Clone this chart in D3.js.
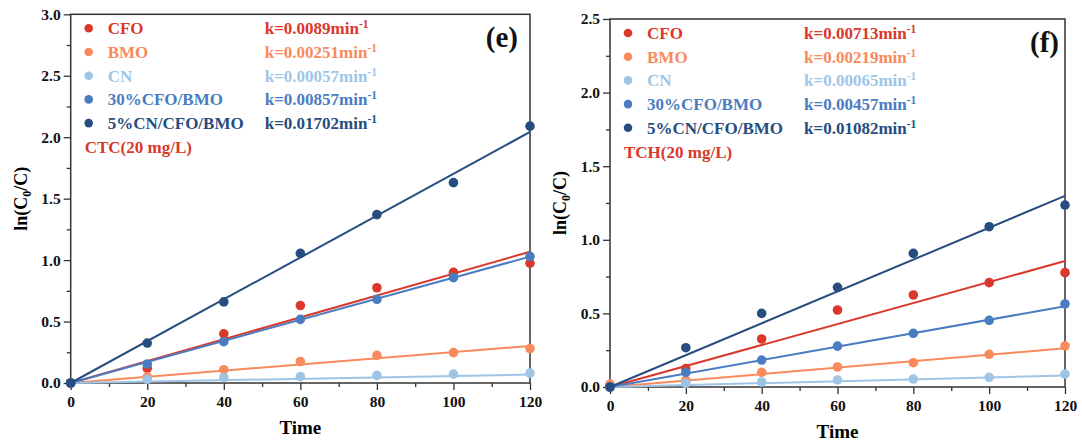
<!DOCTYPE html>
<html>
<head>
<meta charset="utf-8">
<script src="https://cdn.jsdelivr.net/npm/d3@7"></script>
<style>
  body { margin: 0; background: #fff; }
  svg { display: block; }
  text { font-family: "Times New Roman", "Liberation Serif", serif; font-weight: bold; }
</style>
</head>
<body>
<div id="chart"></div>
<script>
// sampling times (min)
var times = [0, 20, 40, 60, 80, 100, 120];

var seriesNames = ["CFO", "BMO", "CN", "30%CFO/BMO", "5%CN/CFO/BMO"];
var seriesColors = ["#d9382b", "#f98a5b", "#9fc5e6", "#4a7cc2", "#274d80"];

// (e) CTC
var ctcCFO  = [0, 0.12, 0.40, 0.63, 0.775, 0.90, 0.975];
var ctcBMO  = [0, 0.05, 0.108, 0.175, 0.225, 0.247, 0.28];
var ctcCN   = [0, 0.03, 0.043, 0.052, 0.062, 0.073, 0.081];
var ctcCB   = [0, 0.155, 0.336, 0.518, 0.68, 0.857, 1.03];
var ctcCNCB = [0, 0.325, 0.66, 1.055, 1.37, 1.63, 2.09];
var ctcK    = [0.0089, 0.00251, 0.00057, 0.00857, 0.01702];
var ctcTicks = [0, 0.5, 1.0, 1.5, 2.0, 2.5, 3.0];

// (f) TCH
var tchCFO  = [0, 0.125, 0.326, 0.523, 0.625, 0.709, 0.777];
var tchBMO  = [0.02, 0.045, 0.10, 0.136, 0.165, 0.222, 0.28];
var tchCN   = [0, 0.025, 0.034, 0.048, 0.054, 0.066, 0.088];
var tchCB   = [0, 0.10, 0.183, 0.278, 0.365, 0.453, 0.564];
var tchCNCB = [0, 0.267, 0.50, 0.677, 0.908, 1.089, 1.236];
var tchK    = [0.00713, 0.00219, 0.00065, 0.00457, 0.01082];
var tchTicks = [0, 0.5, 1.0, 1.5, 2.0, 2.5];

var xTicks = [0, 20, 40, 60, 80, 100, 120];

var svg = d3.select("#chart").append("svg")
    .attr("width", 1082)
    .attr("height", 444);

var kinetics = {
    draw: function( p )
    {
        var width = p.x1 - p.x0,
            height = p.y1 - p.y0;

        var x = d3.scaleLinear().domain( [ 0, 120 ] ).range( [ 0, width ] );
        var y = d3.scaleLinear().domain( [ 0, p.yMax ] ).range( [ height, 0 ] );

        var g = svg.append( "g" )
            .attr( "transform", "translate(" + p.x0 + "," + p.y0 + ")" );

        // minor ticks
        var yMinor = [];
        for( var v = 0.25; v < p.yMax; v += 0.5 ) yMinor.push( v );
        g.append( "g" )
            .call( d3.axisLeft( y ).tickValues( yMinor ).tickSize( 4 ).tickFormat( "" ) )
            .call( function( s ) { s.select( ".domain" ).remove(); } );
        g.append( "g" )
            .attr( "transform", "translate(0," + height + ")" )
            .call( d3.axisBottom( x ).tickValues( [ 10, 30, 50, 70, 90, 110 ] ).tickSize( 4 ).tickFormat( "" ) )
            .call( function( s ) { s.select( ".domain" ).remove(); } );

        // major ticks + labels
        var ya = g.append( "g" )
            .call( d3.axisLeft( y ).tickValues( p.yTicks ).tickSize( 7 ).tickPadding( 3 ).tickFormat( d3.format( ".1f" ) ) );
        ya.select( ".domain" ).remove();
        ya.selectAll( "text" ).style( "font-size", "15.5px" ).style( "fill", "#111" );

        var xa = g.append( "g" )
            .attr( "transform", "translate(0," + height + ")" )
            .call( d3.axisBottom( x ).tickValues( xTicks ).tickSize( 7 ).tickPadding( 6 ) );
        xa.select( ".domain" ).remove();
        xa.selectAll( "text" ).style( "font-size", "15.5px" ).style( "fill", "#111" );

        g.selectAll( ".tick line" ).attr( "stroke", "#333" ).attr( "stroke-width", 1.3 );

        // frame
        g.append( "rect" )
            .attr( "width", width )
            .attr( "height", height )
            .attr( "fill", "none" )
            .attr( "stroke", "#333" )
            .attr( "stroke-width", 1.5 );

        // axis titles
        g.append( "text" )
            .attr( "x", width / 2 )
            .attr( "y", height + 51 )
            .attr( "text-anchor", "middle" )
            .style( "font-size", "19px" )
            .text( "Time" );

        var yl = g.append( "text" )
            .attr( "transform", "translate(" + p.yLabelX + "," + (height / 2) + ") rotate(-90)" )
            .attr( "text-anchor", "middle" )
            .style( "font-size", "18px" );
        yl.append( "tspan" ).text( "ln(C" );
        yl.append( "tspan" ).attr( "dy", 4 ).style( "font-size", "12px" ).text( "0" );
        yl.append( "tspan" ).attr( "dy", -4 ).text( "/C)" );

        // fitted lines (k*t) and measured points
        p.series.forEach( function( vals, i ) {
            var k = p.k[ i ];
            g.append( "path" )
                .datum( [ 0, 120 ] )
                .attr( "fill", "none" )
                .attr( "stroke", seriesColors[ i ] )
                .attr( "stroke-width", 2 )
                .attr( "d", d3.line()
                    .x( function( t ) { return x( t ); } )
                    .y( function( t ) { return y( k * t ); } ) );

            g.selectAll( ".dot" + i )
                .data( vals )
                .enter().append( "circle" )
                .attr( "cx", function( d, j ) { return x( times[ j ] ); } )
                .attr( "cy", function( d ) { return y( d ); } )
                .attr( "r", 4.8 )
                .attr( "fill", seriesColors[ i ] );
        });

        // legend
        var lg = g.append( "g" ).attr( "transform", "translate(18," + 14 + ")" );
        seriesNames.forEach( function( name, i ) {
            var row = lg.append( "g" ).attr( "transform", "translate(0," + (i * 23.7) + ")" );
            row.append( "circle" ).attr( "r", 4.3 ).attr( "fill", seriesColors[ i ] );
            row.append( "text" )
                .attr( "x", 19 ).attr( "y", 6 )
                .style( "font-size", "17px" )
                .style( "fill", seriesColors[ i ] )
                .text( name );
            var kt = row.append( "text" )
                .attr( "x", 176 ).attr( "y", 6 )
                .style( "font-size", "17px" )
                .style( "fill", seriesColors[ i ] );
            kt.append( "tspan" ).text( "k=" + String( p.k[ i ] ) + "min" );
            kt.append( "tspan" ).attr( "dy", -6 ).style( "font-size", "11.5px" ).text( "-1" );
        });

        lg.append( "text" )
            .attr( "x", -4 ).attr( "y", 5 * 23.7 + 6 )
            .style( "font-size", "17px" )
            .style( "fill", seriesColors[ 0 ] )
            .text( p.note );

        // panel letter
        g.append( "text" )
            .attr( "x", width - p.letterInset )
            .attr( "y", 33 )
            .attr( "text-anchor", "end" )
            .style( "font-size", "29px" )
            .style( "fill", "#111" )
            .text( p.letter );
    }
};

kinetics.draw({
    x0: 70.7, x1: 530, y0: 14.3, y1: 383,
    yMax: 3.0, yTicks: ctcTicks, yLabelX: -44,
    series: [ ctcCFO, ctcBMO, ctcCN, ctcCB, ctcCNCB ],
    k: ctcK, note: "CTC(20 mg/L)", letter: "(e)", letterInset: 12
});

kinetics.draw({
    x0: 610, x1: 1065, y0: 19, y1: 387,
    yMax: 2.5, yTicks: tchTicks, yLabelX: -44,
    series: [ tchCFO, tchBMO, tchCN, tchCB, tchCNCB ],
    k: tchK, note: "TCH(20 mg/L)", letter: "(f)", letterInset: 6
});
</script>
</body>
</html>
